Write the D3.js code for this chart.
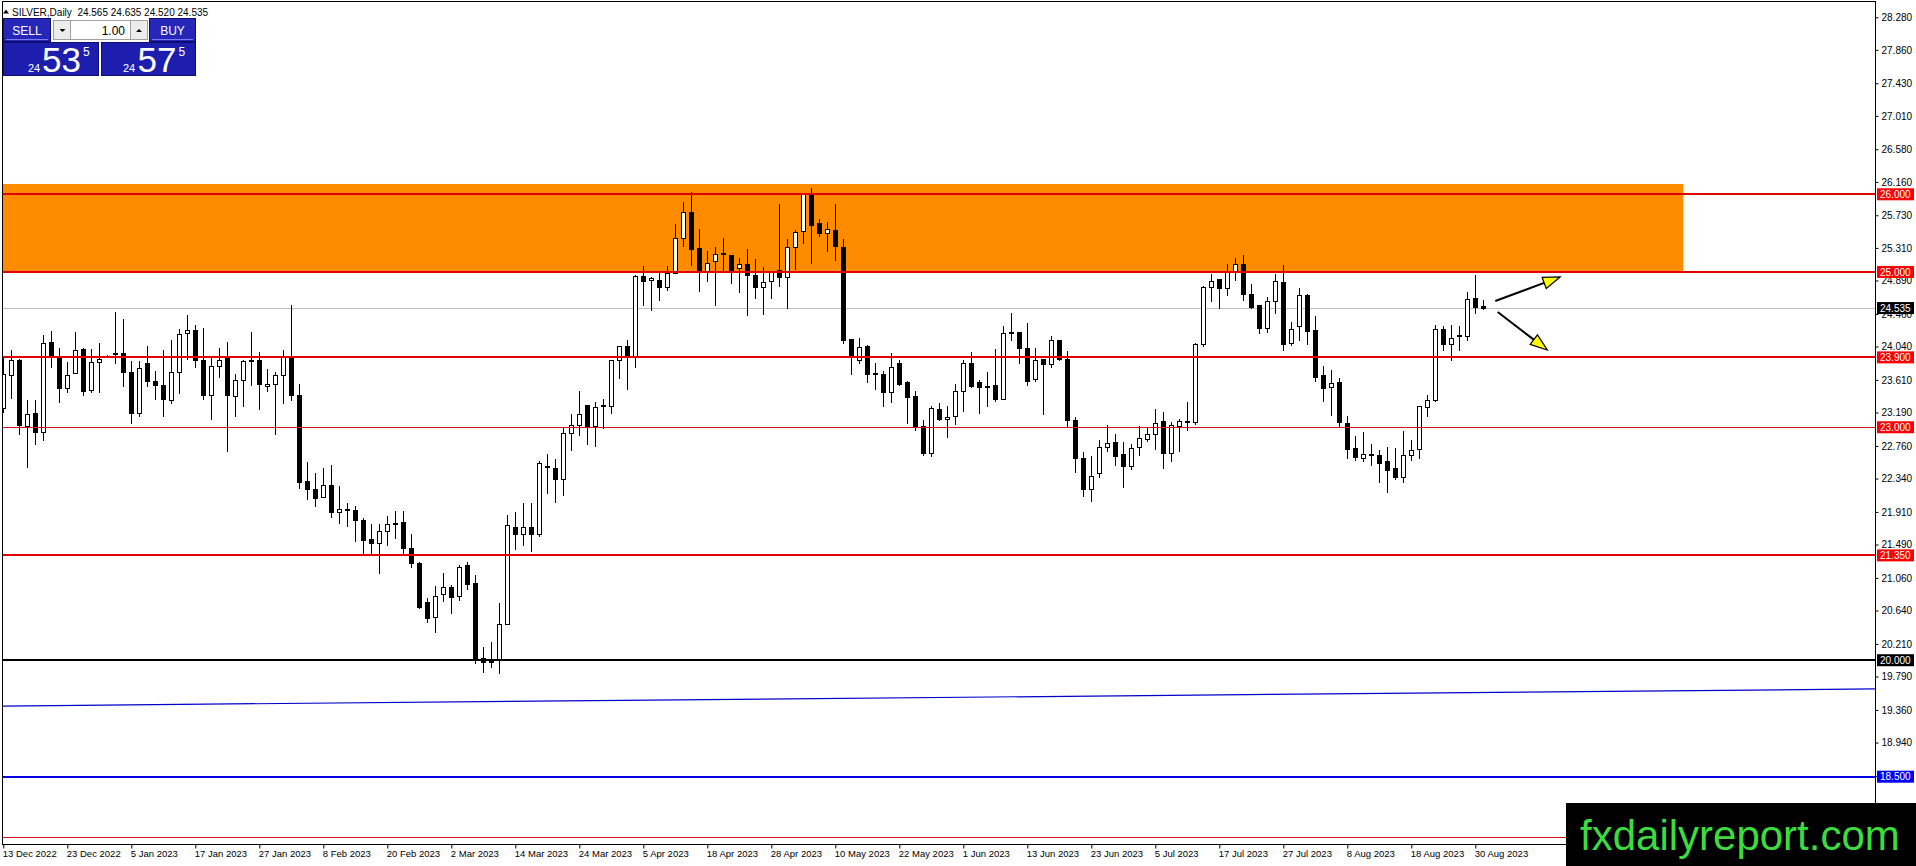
<!DOCTYPE html>
<html><head><meta charset="utf-8">
<script src="https://cdn.jsdelivr.net/npm/d3@7"></script>
<style>
html,body{margin:0;padding:0;background:#fff;overflow:hidden}
text{font-family:"Liberation Sans",Arial,sans-serif}
</style></head>
<body>
<script>
// ---------- DATA ----------
const opens = [
23.25,23.67,23.87,23.02,23.18,22.94,24.10,23.91,23.50,23.70,
24.01,23.48,23.84,23.91,23.94,23.95,23.71,23.19,23.83,23.60,
23.54,23.35,23.71,24.21,24.25,23.87,23.41,23.79,23.89,23.40,
23.61,23.87,23.86,23.53,23.56,23.67,23.91,23.41,22.31,22.21,
22.10,22.26,21.91,21.95,21.94,21.80,21.56,21.51,21.67,21.76,
21.775,21.45,21.25,20.75,20.56,20.85,20.94,20.83,21.22,20.99,
20.03,20.01,20.01,20.47,21.72,21.63,21.71,21.63,22.49,22.48,
22.34,22.92,23.03,23.29,23.01,23.28,23.28,23.86,24.05,23.92,
24.95,24.90,24.90,24.81,24.99,25.44,25.77,25.31,25.01,25.14,
25.24,25.22,25.05,25.10,24.96,24.81,24.88,25.03,24.94,25.32,
25.53,25.99,25.63,25.50,25.54,25.32,24.14,23.87,24.05,23.69,
23.68,23.45,23.83,23.58,23.40,23.01,22.67,23.24,23.10,23.14,
23.47,23.83,23.58,23.52,23.54,23.37,24.23,24.23,24.02,23.62,
23.88,23.81,24.13,23.88,23.09,22.60,22.20,22.41,22.74,22.81,
22.66,22.50,22.74,22.85,22.91,23.08,22.67,23.02,23.07,23.07,
24.07,24.80,24.91,24.79,25.01,25.10,24.71,24.58,24.28,24.63,
24.87,24.08,24.30,24.70,24.25,23.67,23.52,23.58,23.06,22.73,
22.61,22.65,22.64,22.56,22.47,22.36,22.64,22.72,23.26,23.35,
24.27,24.07,24.18,24.18,24.66,24.565];
const highs = [
23.90,23.99,23.88,23.35,23.35,24.19,24.24,24.02,23.84,24.23,
24.02,24.01,24.08,23.93,24.49,24.40,23.85,23.85,24.05,23.72,
23.99,24.13,24.26,24.45,24.32,24.28,23.89,24.02,24.10,23.69,
23.87,24.23,23.97,23.75,23.71,23.99,24.57,23.56,22.55,22.41,
22.47,22.52,22.24,22.02,21.98,21.83,21.75,21.76,21.86,21.92,
21.92,21.63,21.26,20.80,20.95,21.12,20.97,21.22,21.26,21.10,
20.17,20.24,20.74,21.87,21.91,22.02,22.02,22.56,22.65,22.59,
23.00,23.17,23.47,23.29,23.32,23.36,23.86,24.05,24.13,24.96,
25.08,24.94,24.99,25.08,25.62,25.90,26.03,25.55,25.27,25.32,
25.44,25.22,25.18,25.30,25.17,25.06,25.00,25.87,25.43,25.54,
26.02,26.08,25.68,25.64,25.87,25.42,24.14,24.15,24.06,23.83,
23.73,23.95,23.86,23.59,23.47,23.09,23.27,23.31,23.28,23.56,
23.87,23.97,23.61,23.71,24.01,24.30,24.47,24.23,24.34,24.02,
23.88,24.17,24.13,23.98,23.13,22.68,22.63,22.84,23.03,22.91,
22.81,22.79,23.01,22.99,23.24,23.20,23.07,23.10,23.33,24.09,
24.82,24.97,24.91,25.10,25.18,25.22,24.85,24.58,24.68,24.97,
25.09,24.35,24.79,24.72,24.43,23.79,23.74,23.64,23.14,22.89,
22.94,22.79,22.71,22.74,22.73,22.95,22.84,23.28,23.41,24.32,
24.31,24.32,24.30,24.74,24.96,24.635];
const lows = [
23.20,23.38,22.91,22.49,22.78,22.84,23.77,23.32,23.45,23.70,
23.41,23.46,23.46,23.90,23.83,23.53,23.06,23.14,23.53,23.37,
23.15,23.31,23.44,23.88,23.77,23.37,23.10,23.65,22.70,23.15,
23.27,23.54,23.24,23.47,22.91,23.31,23.35,22.22,22.07,21.98,
22.10,21.85,21.77,21.73,21.54,21.36,21.37,21.12,21.48,21.58,
21.38,21.20,20.675,20.49,20.36,20.76,20.61,20.77,20.92,19.97,
19.85,19.91,19.83,20.47,21.43,21.48,21.41,21.60,22.15,22.04,
22.13,22.71,22.90,22.79,22.76,22.99,23.18,23.64,23.49,23.77,
24.58,24.51,24.64,24.77,24.99,25.34,25.09,24.75,24.88,24.58,
25.01,24.86,24.74,24.44,24.67,24.46,24.67,24.82,24.53,25.04,
25.37,25.11,25.46,25.27,25.16,24.08,23.68,23.83,23.58,23.49,
23.27,23.33,23.55,23.05,22.97,22.64,22.63,23.09,22.87,23.04,
23.21,23.52,23.19,23.28,23.34,23.37,24.13,23.83,23.55,23.59,
23.17,23.77,23.87,23.01,22.42,22.12,22.05,22.36,22.69,22.51,
22.23,22.46,22.64,22.82,22.72,22.47,22.56,22.70,22.96,23.04,
24.05,24.62,24.54,24.70,24.90,24.64,24.53,24.21,24.23,24.47,
23.99,24.06,24.13,24.07,23.59,23.34,23.16,23.01,22.61,22.58,
22.56,22.51,22.30,22.16,22.34,22.29,22.58,22.61,23.15,23.34,
24.00,23.87,23.99,24.12,24.47,24.52];
const closes = [
23.68,23.86,23.03,23.17,22.94,24.08,23.90,23.50,23.67,23.99,
23.47,23.84,23.88,23.92,23.95,23.71,23.18,23.76,23.59,23.54,
23.36,23.71,24.20,24.25,23.87,23.41,23.79,23.87,23.41,23.61,
23.85,23.85,23.56,23.56,23.67,23.91,23.41,22.30,22.20,22.09,
22.26,21.91,21.95,21.93,21.80,21.55,21.51,21.67,21.76,21.765,
21.45,21.25,20.69,20.55,20.83,20.94,20.82,21.20,20.98,20.00,
19.98,19.98,20.46,21.74,21.63,21.71,21.63,22.54,22.50,22.33,
22.92,23.03,23.17,23.01,23.26,23.285,23.86,24.05,23.92,24.95,
24.88,24.92,24.80,24.99,25.44,25.77,25.30,25.01,25.12,25.23,
25.23,25.02,25.10,24.96,24.81,24.87,25.00,24.93,25.32,25.52,
26.00,25.60,25.50,25.55,25.33,24.13,23.91,24.03,23.68,23.695,
23.45,23.78,23.56,23.39,23.00,22.67,23.25,23.10,23.13,23.47,
23.83,23.53,23.52,23.525,23.37,24.21,24.22,24.02,23.60,23.87,
23.81,24.13,23.88,23.09,22.60,22.21,22.37,22.74,22.80,22.63,
22.50,22.73,22.86,22.91,23.06,22.67,23.03,23.08,23.075,24.07,
24.80,24.88,24.79,25.00,25.10,24.71,24.55,24.28,24.63,24.88,
24.07,24.27,24.70,24.24,23.65,23.51,23.57,23.07,22.72,22.62,
22.65,22.64,22.54,22.45,22.36,22.64,22.71,23.27,23.35,24.27,
24.07,24.15,24.185,24.65,24.55,24.535];

const dateLabels = ["13 Dec 2022","23 Dec 2022","5 Jan 2023","17 Jan 2023","27 Jan 2023","8 Feb 2023",
"20 Feb 2023","2 Mar 2023","14 Mar 2023","24 Mar 2023","5 Apr 2023","18 Apr 2023","28 Apr 2023",
"10 May 2023","22 May 2023","1 Jun 2023","13 Jun 2023","23 Jun 2023","5 Jul 2023","17 Jul 2023",
"27 Jul 2023","8 Aug 2023","18 Aug 2023","30 Aug 2023"];
const dateLabelBars = [0,8,16,24,32,40,48,56,64,72,80,88,96,104,112,120,128,136,144,152,160,168,176,184];

const priceTicks = [28.28,27.86,27.43,27.01,26.58,26.16,25.73,25.31,24.89,24.46,24.04,23.61,23.19,
22.76,22.34,21.91,21.49,21.06,20.64,20.21,19.79,19.36,18.94,18.51];

const levelPrices = [26.0, 25.0, 23.9, 23.0, 21.35, 20.0, 18.5, 17.727];
const levelKinds  = ["red2","red2","red2","red1","red2","black2","blue2","red1"];
const levelTagged = [true,true,true,true,true,true,true,false];

const zonePrices = [26.133, 25.0];      // orange supply zone (top, bottom)
const zoneEndBar = 210;
const trendBars = [-0.1, 234];          // blue trend line endpoints (bar index)
const trendPrices = [19.41, 19.63];
const bidPrice = 24.535;
const arrowStarts = [[186.5, 24.626],[186.8, 24.484]];
const arrowTips   = [[194.6, 24.935],[193.0, 23.995]];

const header = {sym:"SILVER,Daily", o:"24.565", h:"24.635", l:"24.520", c:"24.535"};
const sellQuote = ["24","53","5"];
const buyQuote  = ["24","57","5"];
const lotSize = "1.00";

// ---------- SETUP ----------
const W = 1916, H = 866;
const plotL = 2.5, plotR = 1875.5, plotT = 1.5, plotB = 844.5;
const yS = d3.scaleLinear().domain([18.5, 26]).range([776.7, 194.3]);
const xS = d3.scaleLinear().domain([0, 185]).range([3.3, 1483.3]);

const svg = d3.select("body").append("svg").attr("width", W).attr("height", H)
  .style("display","block");
svg.append("rect").attr("width", W).attr("height", H).attr("fill", "#fff");

svg.append("clipPath").attr("id","plot").append("rect")
  .attr("x", plotL).attr("y", plotT).attr("width", plotR - plotL).attr("height", plotB - plotT);
const plot = svg.append("g").attr("clip-path","url(#plot)");

// orange zone
plot.append("rect")
  .attr("x", plotL).attr("y", yS(zonePrices[0]))
  .attr("width", xS(zoneEndBar) - plotL).attr("height", yS(zonePrices[1]) - yS(zonePrices[0]))
  .attr("fill", "#ff8c00");

// bid line
plot.append("line").attr("x1", plotL).attr("x2", plotR)
  .attr("y1", Math.round(yS(bidPrice)) + 0.5).attr("y2", Math.round(yS(bidPrice)) + 0.5)
  .attr("stroke", "#c0c0c0").attr("stroke-width", 1);

// candles
const idx = d3.range(opens.length);
const cg = plot.append("g").attr("shape-rendering","crispEdges");
idx.forEach(i => {
  const cx = Math.round(xS(i));
  const o = opens[i], c = closes[i], hi = highs[i], lo = lows[i];
  cg.append("line").attr("x1", cx + 0.5).attr("x2", cx + 0.5)
    .attr("y1", Math.round(yS(hi))).attr("y2", Math.round(yS(lo)) + 1)
    .attr("stroke", "#000").attr("stroke-width", 1);
  const top = Math.round(yS(Math.max(o, c)));
  const bot = Math.round(yS(Math.min(o, c)));
  if (c > o) {
    cg.append("rect").attr("x", cx - 1.5).attr("y", top + 0.5)
      .attr("width", 4).attr("height", Math.max(bot - top, 1))
      .attr("fill", "#fff").attr("stroke", "#000").attr("stroke-width", 1);
  } else {
    cg.append("rect").attr("x", cx - 2).attr("y", top)
      .attr("width", 5).attr("height", Math.max(bot - top, 1) + 1)
      .attr("fill", "#000");
  }
});

// horizontal levels
const kindStyle = {
  red2:  {color:"#e00000", w:2, tag:"#ff0000"},
  red1:  {color:"#d01818", w:1, tag:"#ff0000"},
  black2:{color:"#000000", w:2, tag:"#000000"},
  blue2: {color:"#0000e0", w:2, tag:"#0000ff"}
};
levelPrices.forEach((p, i) => {
  const st = kindStyle[levelKinds[i]];
  const y = st.w === 1 ? Math.round(yS(p)) + 0.5 : Math.round(yS(p));
  plot.append("line").attr("x1", plotL).attr("x2", plotR).attr("y1", y).attr("y2", y)
    .attr("stroke", st.color).attr("stroke-width", st.w);
});

// trend line
plot.append("line")
  .attr("x1", xS(trendBars[0])).attr("y1", yS(trendPrices[0]))
  .attr("x2", xS(trendBars[1])).attr("y2", yS(trendPrices[1]))
  .attr("stroke", "#0000c8").attr("stroke-width", 1.2);

// arrows
arrowStarts.forEach((s, i) => {
  const x1 = xS(s[0]), y1 = yS(s[1]);
  const x2 = xS(arrowTips[i][0]), y2 = yS(arrowTips[i][1]);
  const ang = Math.atan2(y2 - y1, x2 - x1);
  const L = 17, Wd = 6;
  const bx = x2 - L * Math.cos(ang), by = y2 - L * Math.sin(ang);
  plot.append("line").attr("x1", x1).attr("y1", y1).attr("x2", bx).attr("y2", by)
    .attr("stroke", "#000").attr("stroke-width", 2);
  const px = -Math.sin(ang), py = Math.cos(ang);
  plot.append("path")
    .attr("d", `M${x2},${y2}L${bx + px * Wd},${by + py * Wd}L${bx - px * Wd},${by - py * Wd}Z`)
    .attr("fill", "#ffff00").attr("stroke", "#000").attr("stroke-width", 1.2);
});

// frame
svg.append("rect").attr("x", plotL).attr("y", plotT).attr("width", plotR - plotL).attr("height", plotB - plotT)
  .attr("fill", "none").attr("stroke", "#000").attr("stroke-width", 1).attr("shape-rendering","crispEdges");
svg.append("line").attr("x1", plotR).attr("x2", plotR).attr("y1", plotT).attr("y2", H)
  .attr("stroke", "#000").attr("stroke-width", 1);

// price axis
const yAxis = d3.axisRight(yS).tickValues(priceTicks).tickFormat(d3.format(".3f"))
  .tickSize(3).tickPadding(3);
const ya = svg.append("g").attr("transform", `translate(${plotR},0)`).call(yAxis);
ya.select(".domain").remove();
ya.selectAll("line").attr("stroke", "#000");
ya.selectAll("text").attr("font-size", 10).attr("fill", "#000")
  .attr("font-family", "Liberation Sans, Arial, sans-serif");

// tagged level labels
levelPrices.forEach((p, i) => {
  if (!levelTagged[i]) return;
  const st = kindStyle[levelKinds[i]];
  const y = yS(p);
  svg.append("rect").attr("x", plotR + 1.5).attr("y", y - 6).attr("width", 37).attr("height", 12)
    .attr("fill", st.tag);
  svg.append("text").attr("x", plotR + 4.5).attr("y", y + 3.6).attr("font-size", 10)
    .attr("fill", "#fff").text(d3.format(".3f")(p));
});
// bid tag
svg.append("rect").attr("x", plotR + 1.5).attr("y", yS(bidPrice) - 6).attr("width", 37).attr("height", 12)
  .attr("fill", "#000");
svg.append("text").attr("x", plotR + 4.5).attr("y", yS(bidPrice) + 3.6).attr("font-size", 10)
  .attr("fill", "#fff").text(d3.format(".3f")(bidPrice));

// date axis
const xAxis = d3.axisBottom(xS).tickValues(dateLabelBars)
  .tickFormat((d, i) => dateLabels[i]).tickSize(4).tickPadding(2);
const xa = svg.append("g").attr("transform", `translate(0,${plotB})`).call(xAxis);
xa.select(".domain").remove();
xa.selectAll("line").attr("stroke", "#000");
xa.selectAll("text").attr("font-size", 9.5).attr("fill", "#000").attr("text-anchor", "start")
  .attr("dx", -1).attr("font-family", "Liberation Sans, Arial, sans-serif");

// header
svg.append("path").attr("d", "M3,13.5L9,13.5L6,9.5Z").attr("fill", "#000");
svg.append("text").attr("x", 12).attr("y", 15.5).attr("font-size", 10).attr("fill", "#000")
  .style("white-space", "pre")
  .text(`${header.sym}  ${header.o} ${header.h} ${header.l} ${header.c}`);

// trading panel
const panel = svg.append("g");
const blue = "#2626b8", blueBorder = "#7a7aff";
function btn(x, w, label) {
  panel.append("rect").attr("x", x + 0.5).attr("y", 18.5).attr("width", w).attr("height", 23)
    .attr("fill", blue).attr("stroke", "#0e0e70");
  panel.append("line").attr("x1", x + 3).attr("x2", x + w - 2).attr("y1", 39.5).attr("y2", 39.5)
    .attr("stroke", blueBorder);
  panel.append("text").attr("x", x + w / 2 + 0.5).attr("y", 34.5).attr("text-anchor", "middle")
    .attr("font-size", 12).attr("fill", "#fff").text(label);
}
btn(3, 47, "SELL");
btn(149, 46, "BUY");
panel.append("rect").attr("x", 53.5).attr("y", 20.5).attr("width", 94).attr("height", 19)
  .attr("fill", "#fff").attr("stroke", "#a0a0a0");
panel.append("rect").attr("x", 53.5).attr("y", 20.5).attr("width", 17).attr("height", 19)
  .attr("fill", "#ececec").attr("stroke", "#a0a0a0");
panel.append("rect").attr("x", 130.5).attr("y", 20.5).attr("width", 17).attr("height", 19)
  .attr("fill", "#ececec").attr("stroke", "#a0a0a0");
panel.append("path").attr("d", "M59.5,29L65.5,29L62.5,32Z").attr("fill", "#000");
panel.append("path").attr("d", "M136,32L142,32L139,29Z").attr("fill", "#000");
panel.append("text").attr("x", 125).attr("y", 34.5).attr("text-anchor", "end")
  .attr("font-size", 12).attr("fill", "#000").text(lotSize);
function quoteBox(x, w, q, bx, lx, sx) {
  panel.append("rect").attr("x", x + 0.5).attr("y", 42.5).attr("width", w).attr("height", 33)
    .attr("fill", "#1e1eae").attr("stroke", "#0e0e70");
  panel.append("text").attr("x", bx).attr("y", 72).attr("font-size", 11).attr("fill", "#fff").text(q[0]);
  panel.append("text").attr("x", lx).attr("y", 72).attr("font-size", 35).attr("fill", "#fff").text(q[1]);
  panel.append("text").attr("x", sx).attr("y", 55.5).attr("font-size", 12).attr("fill", "#fff").text(q[2]);
}
quoteBox(3, 95, sellQuote, 28, 42, 83);
quoteBox(101, 94, buyQuote, 123, 137.5, 178.5);

// logo
svg.append("rect").attr("x", 1566).attr("y", 803).attr("width", 350).attr("height", 63).attr("fill", "#000");
svg.append("text").attr("x", 1580).attr("y", 850).attr("font-size", 42).attr("fill", "#3cdc3c")
  .text("fxdailyreport.com");
</script>
</body></html>
